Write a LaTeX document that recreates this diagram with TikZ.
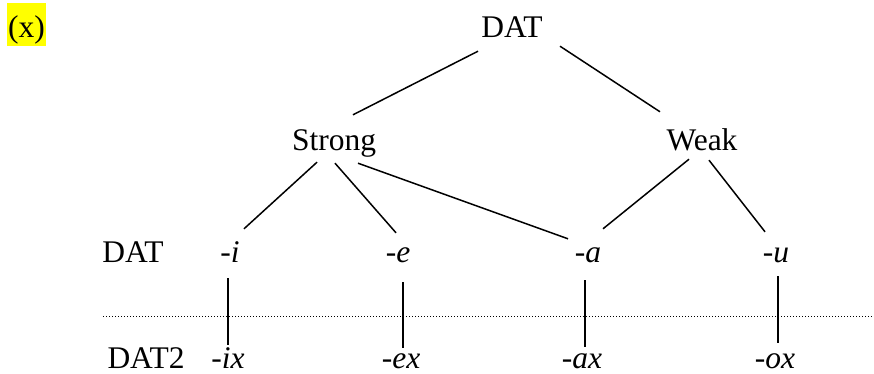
\documentclass[tikz,border=0pt]{standalone}
\usepackage{fontspec}
\setmainfont{Liberation Serif}
\usepackage{tikz}
\usetikzlibrary{positioning}
\definecolor{hilite}{RGB}{255,255,0}
\newcommand{\treefont}{\rmfamily\fontsize{31.5pt}{36pt}\selectfont}
\tikzset{
  catnode/.style={inner sep=0pt, anchor=base, text height=22pt, text depth=7pt, font=\treefont},
  affix/.style={catnode, font=\treefont\itshape},
  lowrow/.style={text depth=0pt},
  numlabel/.style={inner sep=0pt, inner xsep=1.2pt, anchor=base, fill=hilite,
    text height=35pt, text depth=8pt, font=\treefont},
  branch/.style={line width=1.5pt},
  tierline/.style={line width=1pt, dash pattern=on 1.4pt off 1.6pt}
}

\begin{document}
\begin{tikzpicture}[x=1pt, y=-1pt]
\useasboundingbox (0,0) rectangle (874,374);

\node[numlabel] (ex) at (26.5,38) {(x)};

\node[catnode] (root) at (512,38) {DAT};
\node[catnode] (strong) at (334,150) {Strong};
\node[catnode] (weak) at (702,150) {Weak};

\node[catnode] (dat) at (133,262) {DAT};
\node[affix] (i) at (230,262) {-i};
\node[affix] (e) at (398,262) {-e};
\node[affix] (a) at (588,262) {-a};
\node[affix] (u) at (776,262) {-u};

\node[catnode, lowrow] (dattwo) at (146,368) {DAT2};
\node[affix, lowrow] (ix) at (228,368) {-ix};
\node[affix, lowrow] (exx) at (401,368) {-ex};
\node[affix, lowrow] (ax) at (582,368) {-ax};
\node[affix, lowrow] (ox) at (775,368) {-ox};

\coordinate (sepL) at (103,316);
\coordinate (sepR) at (872,316);
\draw[tierline] (sepL) -- (sepR);

\draw[branch] ([xshift=-34pt,yshift=-6pt]root.south) -- ([xshift=19pt,yshift=13pt]strong.north);
\draw[branch] ([xshift=48pt,yshift=-1pt]root.south) -- ([xshift=-42pt,yshift=16pt]weak.north);
\draw[branch] ([xshift=-17pt,yshift=-5pt]strong.south) -- ([xshift=14pt,yshift=11pt]i.north);
\draw[branch] ([xshift=1pt,yshift=-6pt]strong.south) -- ([xshift=-2pt,yshift=7pt]e.north);
\draw[branch] ([xshift=24pt,yshift=-6pt]strong.south) -- ([xshift=-20pt,yshift=1pt]a.north);
\draw[branch] ([xshift=-13pt,yshift=-2pt]weak.south) -- ([xshift=15pt,yshift=11pt]a.north);
\draw[branch] ([xshift=7pt,yshift=-3pt]weak.south) -- ([xshift=-11pt,yshift=8pt]u.north);

\draw[branch] ([xshift=-2pt,yshift=-9pt]i.south) -- ([yshift=1pt]ix.north);
\draw[branch] ([xshift=5pt,yshift=-13pt]e.south) -- ([xshift=2pt,yshift=-2pt]exx.north);
\draw[branch] ([xshift=-3pt,yshift=-11pt]a.south) -- ([xshift=3pt,yshift=-1pt]ax.north);
\draw[branch] ([xshift=2pt,yshift=-7pt]u.south) -- ([xshift=3pt,yshift=3pt]ox.north);
\end{tikzpicture}
\end{document}
